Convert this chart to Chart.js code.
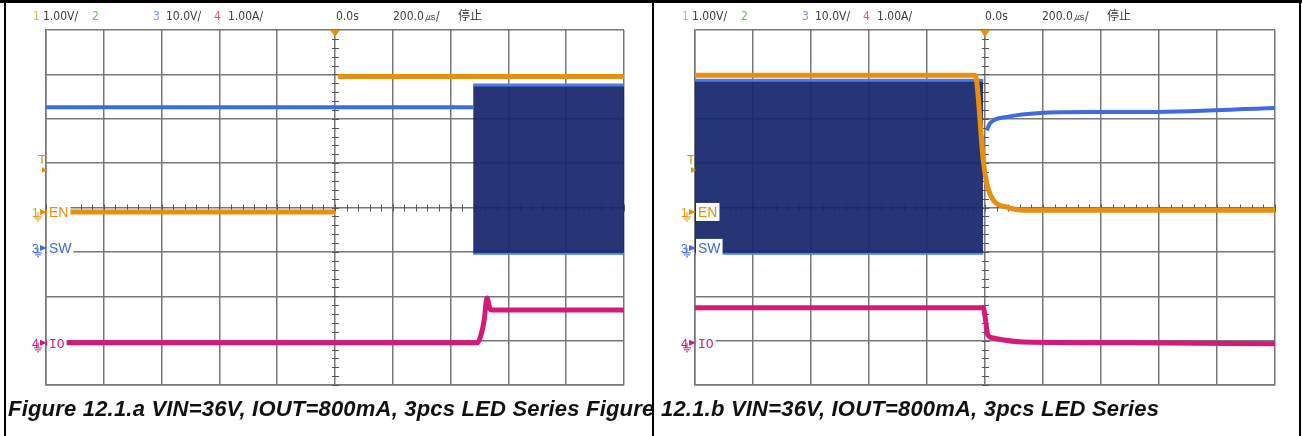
<!DOCTYPE html>
<html>
<head>
<meta charset="utf-8">
<script src="https://cdn.jsdelivr.net/npm/chart.js@4/dist/chart.umd.min.js"></script>
<style>
  body { margin: 0; background: #fff; width: 1302px; height: 436px; overflow: hidden; position: relative; }
  canvas { position: absolute; top: 0; }
  #scopeA { left: 0; }
  #scopeB { left: 652px; }
  .rule { position: absolute; background: #000; z-index: 5; }
  .caption { position: absolute; top: 398px; font: italic bold 22px/22px "Liberation Sans", Arial, sans-serif; letter-spacing: 0.2px; color: #111; white-space: nowrap; z-index: 4; }
</style>
</head>
<body>
<canvas id="scopeA" width="652" height="436"></canvas>
<canvas id="scopeB" width="650" height="436"></canvas>
<div class="rule" style="left:0;top:0;width:1302px;height:3px"></div>
<div class="rule" style="left:4px;top:0;width:2px;height:436px"></div>
<div class="rule" style="left:652px;top:0;width:2px;height:436px"></div>
<div class="rule" style="left:1299px;top:0;width:2px;height:436px"></div>
<div class="caption" id="capA" style="left:8px"></div>
<div class="caption" id="capB" style="left:661px"></div>
<script>
// captions
const captionA = "Figure 12.1.a VIN=36V, IOUT=800mA, 3pcs LED Series Figure";
const captionB = "12.1.b VIN=36V, IOUT=800mA, 3pcs LED Series";

// scope header readout (same on both screens)
const headerText = ["1", "1.00V/", "2", "3", "10.0V/", "4", "1.00A/", "0.0s", "200.0㎲/", "停止"];
// channel markers on the left edge
const markerChannel = ["1", "3", "4"];
const markerName = ["EN", "SW", "IO"];
const markerLevel = [-0.1, -0.91, -3.05];   // divisions
const triggerLevel = 0.96;                  // divisions

// ---- Figure 12.1.a : enable turn-on (time and level in divisions) ----
const timeEnA = [-5, 0, 0, 0.05, 5];
const voltEnA = [-0.1, -0.1, null, 2.95, 2.95];
const timeSwA = [-5, 2.39];
const voltSwA = [2.26, 2.26];
const timeBurstA = [2.39, 5];
const burstHighA = [2.76, 2.76];
const burstLowA = [-1.02, -1.02];
const timeIoA = [-5, 2.46, 2.52, 2.58, 2.63, 2.68, 2.72, 5];
const currIoA = [-3.05, -3.05, -2.9, -2.55, -2.04, -2.28, -2.31, -2.31];

// ---- Figure 12.1.b : enable turn-off ----
const timeEnB = [-5, -0.17, -0.03, 0.03, 0.14, 0.38, 0.66, 5];
const voltEnB = [2.98, 2.98, 1.07, 0.55, 0.17, 0.01, -0.06, -0.06];
const timeBurstB = [-5, -0.03];
const burstHighB = [2.87, 2.87];
const burstLowB = [-1.02, -1.02];
const timeSwB = [0.03, 0.09, 0.38, 0.95, 1.81, 2.67, 5];
const voltSwB = [1.74, 1.90, 2.04, 2.13, 2.15, 2.15, 2.24];
const timeIoB = [-5, -0.03, 0.05, 0.14, 0.66, 2.67, 5];
const currIoB = [-2.26, -2.26, -2.87, -2.94, -3.03, -3.05, -3.07];

document.getElementById("capA").textContent = captionA;
document.getElementById("capB").textContent = captionB;

const ORANGE = "#e98f0e", MAGENTA = "#d6187a", BLUE = "#3d6be0", NAVY = "rgba(22,38,108,0.93)", EDGE = "#4d7ce6";
const GRID = "#777";
const headerDx = [-13, -3, 46, 107, 120, 168, 182, 290, 347, 412];
const headerColor = ["#d9b850", "#3a3a3a", "#6cbf5a", "#7c96dc", "#3a3a3a", "#e0509c", "#3a3a3a", "#3a3a3a", "#3a3a3a", "#3a3a3a"];
const markerColor = [ORANGE, BLUE, MAGENTA];

function pts(t, v) {
  return t.map((x, i) => ({ x: x, y: v[i] }));
}

function trace(t, v, color, width) {
  return {
    data: pts(t, v), borderColor: color, borderWidth: width, pointRadius: 0,
    cubicInterpolationMode: "monotone", spanGaps: false, fill: false,
  };
}

function burst(t, hi, lo) {
  return [
    { data: pts(t, hi), borderColor: EDGE, borderWidth: 3, pointRadius: 0, fill: "+1", backgroundColor: NAVY },
    { data: pts(t, lo), borderColor: EDGE, borderWidth: 4, pointRadius: 0, fill: false },
  ];
}

const scopeDecor = {
  id: "scopeDecor",
  beforeDatasetsDraw(chart) {
    const { ctx, scales: { x, y } } = chart;
    const cx = x.getPixelForValue(0), cy = y.getPixelForValue(0);
    ctx.save();
    ctx.strokeStyle = "#555";
    ctx.lineWidth = 1;
    ctx.beginPath();
    for (let i = -20; i <= 20; i++) {
      const py = Math.round(y.getPixelForValue(i / 5)) + 0.5;
      ctx.moveTo(cx - 3, py); ctx.lineTo(cx + 4, py);
    }
    for (let i = -25; i <= 25; i++) {
      const px = Math.round(x.getPixelForValue(i / 5)) + 0.5;
      ctx.moveTo(px, cy - 3); ctx.lineTo(px, cy + 4);
    }
    ctx.stroke();
    ctx.restore();
  },
  afterDraw(chart) {
    const { ctx, chartArea: a, scales: { x, y } } = chart;
    ctx.save();
    // header readout
    ctx.textBaseline = "alphabetic";
    headerText.forEach((s, i) => {
      ctx.font = s === "停止" ? '12px "Noto Sans CJK SC"' : '12px "Liberation Sans Narrow", "DejaVu Sans Condensed", sans-serif';
      ctx.fillStyle = headerColor[i];
      ctx.fillText(s, a.left + headerDx[i], 20);
    });
    // trigger position marker
    const cx = x.getPixelForValue(0);
    ctx.fillStyle = ORANGE;
    ctx.beginPath();
    ctx.moveTo(cx - 5, a.top); ctx.lineTo(cx + 5, a.top); ctx.lineTo(cx, a.top + 7); ctx.closePath(); ctx.fill();
    // trigger level
    const ty = y.getPixelForValue(triggerLevel);
    ctx.font = '13px "Liberation Sans Narrow", sans-serif';
    ctx.fillText("T", a.left - 8, ty - 1);
    ctx.beginPath();
    ctx.moveTo(a.left - 4, ty + 2); ctx.lineTo(a.left + 1, ty + 5); ctx.lineTo(a.left - 4, ty + 8); ctx.closePath(); ctx.fill();
    // channel markers
    markerName.forEach((name, i) => {
      const py = y.getPixelForValue(markerLevel[i]);
      ctx.fillStyle = markerColor[i];
      ctx.strokeStyle = markerColor[i];
      ctx.lineWidth = 1;
      ctx.font = '12px "Liberation Sans Narrow", sans-serif';
      ctx.fillText(markerChannel[i], a.left - 14, py + 5);
      ctx.beginPath();
      ctx.moveTo(a.left - 6, py - 3); ctx.lineTo(a.left + 1, py); ctx.lineTo(a.left - 6, py + 3); ctx.closePath(); ctx.fill();
      ctx.beginPath();
      ctx.moveTo(a.left - 8, py); ctx.lineTo(a.left - 8, py + 5);
      ctx.moveTo(a.left - 12, py + 5); ctx.lineTo(a.left - 4, py + 5);
      ctx.moveTo(a.left - 11, py + 7); ctx.lineTo(a.left - 5, py + 7);
      ctx.moveTo(a.left - 9, py + 9); ctx.lineTo(a.left - 7, py + 9);
      ctx.stroke();
      ctx.font = name === "IO" ? '13px "Liberation Mono", monospace' : '14px "Liberation Sans Narrow", sans-serif';
      const w = ctx.measureText(name).width;
      ctx.fillStyle = "#fff";
      ctx.fillRect(a.left + 1, py - 9, w + 4, 18);
      ctx.fillStyle = markerColor[i];
      ctx.fillText(name, a.left + 3, py + 5);
    });
    ctx.restore();
  },
};

function axis(min, max) {
  return {
    type: "linear", min: min, max: max,
    ticks: { display: false, stepSize: 1 },
    grid: { color: GRID, lineWidth: 1.5, drawTicks: false },
    border: { display: true, color: GRID, width: 1.5 },
  };
}

function makeScope(id, datasets, pad) {
  return new Chart(document.getElementById(id), {
    type: "line",
    data: { datasets: datasets },
    options: {
      responsive: false, animation: false, devicePixelRatio: 1,
      layout: { padding: pad },
      scales: { x: axis(-5, 5), y: axis(-4, 4) },
      plugins: { legend: { display: false }, tooltip: { enabled: false } },
    },
    plugins: [scopeDecor],
  });
}

makeScope("scopeA", [
  trace(timeEnA, voltEnA, ORANGE, 5),
  trace(timeIoA, currIoA, MAGENTA, 5),
  trace(timeSwA, voltSwA, BLUE, 4),
  ...burst(timeBurstA, burstHighA, burstLowA),
], { left: 46, right: 28, top: 30, bottom: 51 });

makeScope("scopeB", [
  trace(timeEnB, voltEnB, ORANGE, 5),
  trace(timeIoB, currIoB, MAGENTA, 5),
  trace(timeSwB, voltSwB, BLUE, 4),
  ...burst(timeBurstB, burstHighB, burstLowB),
], { left: 43, right: 27, top: 30, bottom: 51 });
</script>
</body>
</html>
